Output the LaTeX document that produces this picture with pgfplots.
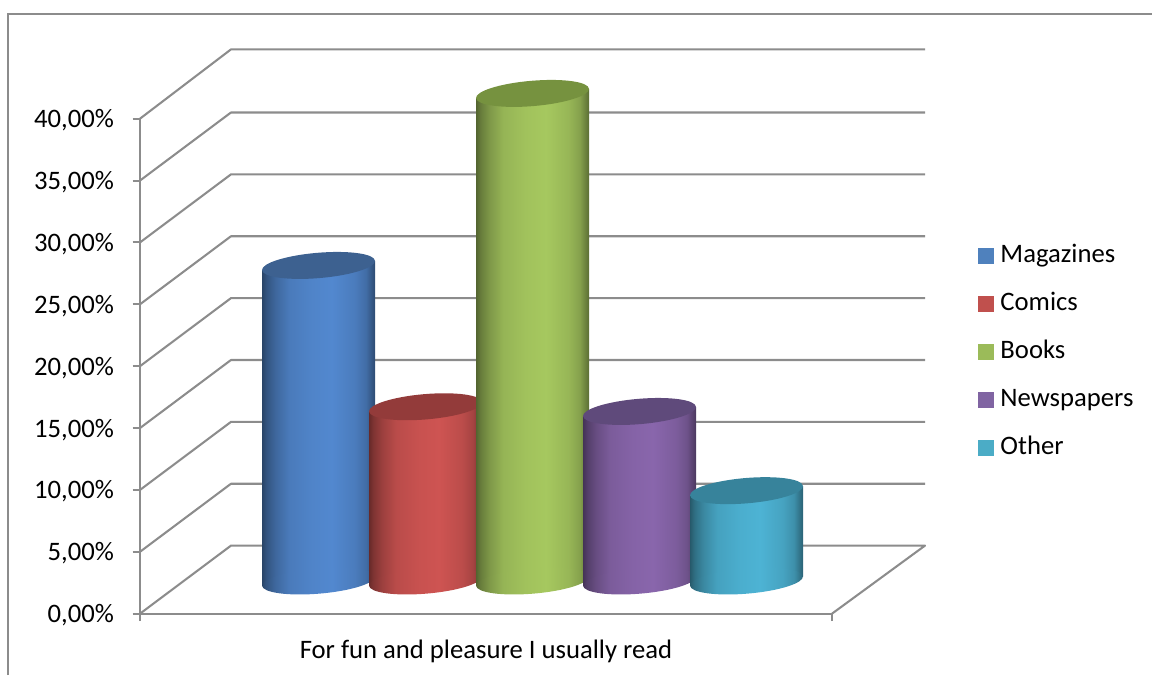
\documentclass[border=0pt]{standalone}
\usepackage{fontspec}
\setmainfont{Carlito}
\usepackage{pgfplots}
\pgfplotsset{compat=1.18}

\definecolor{gridgray}{HTML}{8C8C8C}
\definecolor{magBody}{HTML}{5288CF}
\definecolor{comBody}{HTML}{CE5452}
\definecolor{booBody}{HTML}{A6C85F}
\definecolor{newBody}{HTML}{8966AC}
\definecolor{othBody}{HTML}{4DB3D4}
\definecolor{magCap}{HTML}{3D6190}
\definecolor{comCap}{HTML}{933B3A}
\definecolor{booCap}{HTML}{76923F}
\definecolor{newCap}{HTML}{5F4A7B}
\definecolor{othCap}{HTML}{37839B}
\definecolor{magKey}{HTML}{4F81BD}
\definecolor{comKey}{HTML}{C0504D}
\definecolor{booKey}{HTML}{9BBB59}
\definecolor{newKey}{HTML}{8064A2}
\definecolor{othKey}{HTML}{4BACC6}

% Rounded look of a cylinder: dark rims, broad bright band around the centre.
\newcommand\bodyshading[2]{%
  \pgfdeclarehorizontalshading{#1}{100bp}{%
    color(0bp)=(#2!50!black); color(25bp)=(#2!50!black);
    color(27bp)=(#2!62!black); color(31bp)=(#2!76!black);
    color(37bp)=(#2!90!black); color(47bp)=(#2!97!black);
    color(56bp)=(#2); color(66bp)=(#2!91!black);
    color(71bp)=(#2!80!black); color(75bp)=(#2!55!black);
    color(100bp)=(#2!55!black)}}
\bodyshading{magShade}{magBody}
\bodyshading{comShade}{comBody}
\bodyshading{booShade}{booBody}
\bodyshading{newShade}{newBody}
\bodyshading{othShade}{othBody}

% Tilted elliptical ends of the cylinders, given by their two axis vectors.
\newcommand\cylellipse{\pgfpathellipse{\pgfpointorigin}{\pgfqpoint{42.35pt}{3.55pt}}{\pgfqpoint{-0.79pt}{9.47pt}}}
\newcommand\cylmarks[1]{%
  \pgfdeclareplotmark{#1Top}{\pgfsetfillcolor{#1Cap}\cylellipse\pgfusepath{fill}}%
  \pgfdeclareplotmark{#1Base}{\cylellipse\pgfshadepath{#1Shade}{0}\pgfusepath{discard}}}
\cylmarks{mag}
\cylmarks{com}
\cylmarks{boo}
\cylmarks{new}
\cylmarks{oth}

% Cylinders stand midway back on the floor; their axes start at that depth.
\pgfplotsset{cylinder axis/.style={
  at={(158.625pt,70.5pt)},anchor=south west,
  scale only axis,width=481.5pt,height=371.25pt,
  xmin=0,xmax=6,ymin=0,ymax=40,
  clip=false,hide axis},
  wall/.style={gridgray,line width=1.55pt,line join=round}}

% One cylinder: key, centre x, left x, right x, height, left and right edge heights.
% Plot marks are drawn after all lines of an axis, so each cylinder has its own
% axis: that way the next one to the right overlaps it completely.
\newcommand\cylinder[7]{%
  \begin{axis}[cylinder axis]
  \addplot[only marks,mark=#1Base] coordinates {(#2,0)};
  \addplot[draw=none,shading=#1Shade] coordinates
    {(#3,-0.36) (#4,0.36) (#4,#7) (#3,#6)};
  \addplot[only marks,mark=#1Top] coordinates {(#2,#5)};
  \end{axis}
}

\begin{document}
\begin{tikzpicture}
\useasboundingbox (0,0) rectangle (864pt,506.25pt);
\draw[gridgray,line width=1.55pt] (6pt,0) -- (6pt,496pt) -- (864pt,496pt);

% Walls and floor of the chart box, with the value axis.
\begin{axis}[
  at={(105pt,46pt)},anchor=south west,
  scale only axis,width=519pt,height=371.25pt,
  xmin=0,xmax=692,ymin=0,ymax=40,
  clip=false,
  axis x line=bottom,axis y line=left,
  axis line style={-,gridgray,line width=1.55pt},
  xtick={0,692},xticklabels={,},
  ytick={0,5,...,40},
  yticklabels={{0,00\%},{5,00\%},{10,00\%},{15,00\%},{20,00\%},{25,00\%},{30,00\%},{35,00\%},{40,00\%}},
  tick style={gridgray,line width=1.55pt},
  tick align=outside,major tick length=5.5pt,
  yticklabel style={font=\fontsize{20}{24}\selectfont,black,xshift=-10.5pt,yshift=-1.2pt},
  xlabel={For fun and pleasure I usually read},
  xlabel style={font=\fontsize{20}{24}\selectfont,black,yshift=-3.5pt},
]
\addplot[wall] coordinates {(0,0) (91,5.5) (785,5.5) (692,0)};
\addplot[wall] coordinates {(0,5) (91,10.5) (785,10.5)};
\addplot[wall] coordinates {(0,10) (91,15.5) (785,15.5)};
\addplot[wall] coordinates {(0,15) (91,20.5) (785,20.5)};
\addplot[wall] coordinates {(0,20) (91,25.5) (785,25.5)};
\addplot[wall] coordinates {(0,25) (91,30.5) (785,30.5)};
\addplot[wall] coordinates {(0,30) (91,35.5) (785,35.5)};
\addplot[wall] coordinates {(0,35) (91,40.5) (785,40.5)};
\addplot[wall] coordinates {(0,40) (91,45.6) (785,45.6)};
\end{axis}

\cylinder{mag}{1}{0.472}{1.528}{25.5}{25.14}{25.86}
\cylinder{com}{2}{1.472}{2.528}{14.08}{13.72}{14.44}
\cylinder{boo}{3}{2.472}{3.528}{39.4}{39.04}{39.76}
\cylinder{new}{4}{3.472}{4.528}{13.7}{13.34}{14.06}
\cylinder{oth}{5}{4.472}{5.528}{7.3}{6.94}{7.66}

% Legend of the five series.
\begin{axis}[
  cylinder axis,
  legend image code/.code={\fill[#1] (0pt,-5.6pt) rectangle (11.2pt,5.6pt);},
  legend style={at={(1.194,0.4627)},anchor=west,draw=none,fill=none,
    font=\fontsize{20}{24}\selectfont,row sep=18.1pt,inner sep=0pt,
    nodes={inner sep=0pt,text height=14pt,text depth=4pt},
    /tikz/every odd column/.append style={column sep=5pt}},
  legend cell align=left,
]
\addlegendimage{magKey}\addlegendentry{Magazines}
\addlegendimage{comKey}\addlegendentry{Comics}
\addlegendimage{booKey}\addlegendentry{Books}
\addlegendimage{newKey}\addlegendentry{Newspapers}
\addlegendimage{othKey}\addlegendentry{Other}
\end{axis}
\end{tikzpicture}
\end{document}
